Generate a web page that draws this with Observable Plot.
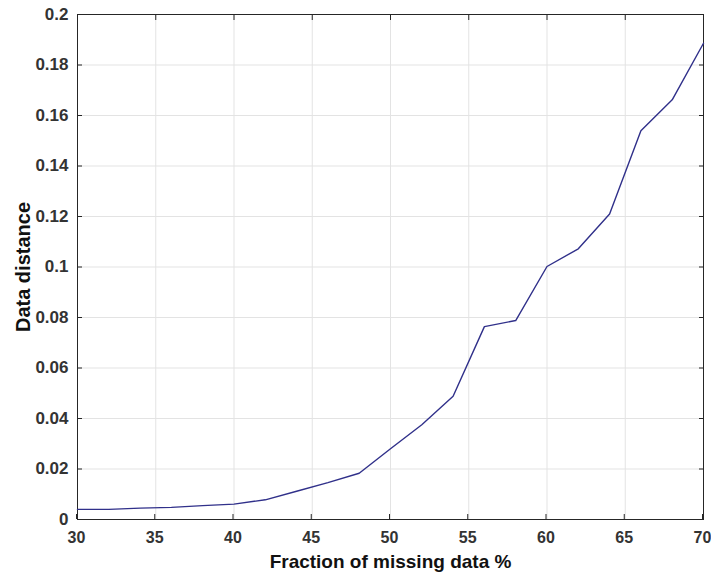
<!DOCTYPE html>
<html>
<head>
<meta charset="utf-8">
<script src="https://cdn.jsdelivr.net/npm/d3@7"></script>
<script src="https://cdn.jsdelivr.net/npm/@observablehq/plot@0.6"></script>
<style>
  html, body { margin: 0; padding: 0; background: #fff; }
  g[aria-label="x-axis label"] text { font-size: 19px; fill: #111; }
  g[aria-label="y-axis label"] text { font-size: 20px; fill: #111; }
</style>
</head>
<body>
<div id="chart"></div>
<script>
const fraction = [30, 32, 34, 36, 38, 40, 42, 44, 46, 48, 50, 52, 54, 56, 58, 60, 62, 64, 66, 68, 70];
const distance = [0.0040, 0.0040, 0.0045, 0.0048, 0.0055, 0.0061, 0.0078, 0.0112, 0.0146, 0.0183, 0.0280, 0.0375, 0.0488, 0.0764, 0.0788, 0.1002, 0.1072, 0.1210, 0.1540, 0.1662, 0.1886];
const xTicks = [30, 35, 40, 45, 50, 55, 60, 65, 70];
const yTicks = [0, 0.02, 0.04, 0.06, 0.08, 0.1, 0.12, 0.14, 0.16, 0.18, 0.2];

const data = fraction.map((f, i) => ({f, d: distance[i]}));
const fmtY = d => String(+d.toFixed(2));

const chart = Plot.plot({
  width: 711,
  height: 574,
  marginLeft: 77,
  marginRight: 8,
  marginTop: 14,
  marginBottom: 55,
  style: {fontFamily: "'Liberation Sans', Arial, sans-serif", fontWeight: "bold", background: "#fff"},
  x: {domain: [30, 70]},
  y: {domain: [0, 0.2]},
  marks: [
    Plot.gridX(xTicks, {stroke: "#e3e3e3", strokeOpacity: 1}),
    Plot.gridY(yTicks, {stroke: "#e3e3e3", strokeOpacity: 1}),
    Plot.axisX(xTicks, {anchor: "bottom", tickSize: -5, tickPadding: 17, fontSize: 16, dx: -1, fill: "#333", stroke: "#262626",
      label: "Fraction of missing data %", labelAnchor: "center", labelOffset: 48, labelArrow: "none"}),
    Plot.axisX(xTicks, {anchor: "top", tickSize: -5, tickFormat: () => "", stroke: "#262626", label: null}),
    Plot.axisY(yTicks, {anchor: "left", tickSize: -5, tickPadding: 14, fontSize: 17, fill: "#333", stroke: "#262626", tickFormat: fmtY,
      label: "Data distance", labelAnchor: "center", labelOffset: 62, labelArrow: "none"}),
    Plot.axisY(yTicks, {anchor: "right", tickSize: -5, tickFormat: () => "", stroke: "#262626", label: null}),
    Plot.frame({stroke: "#262626", strokeWidth: 1}),
    Plot.line(data, {x: "f", y: "d", stroke: "#30308a", strokeWidth: 1.4})
  ]
});
document.getElementById("chart").appendChild(chart);
</script>
</body>
</html>
